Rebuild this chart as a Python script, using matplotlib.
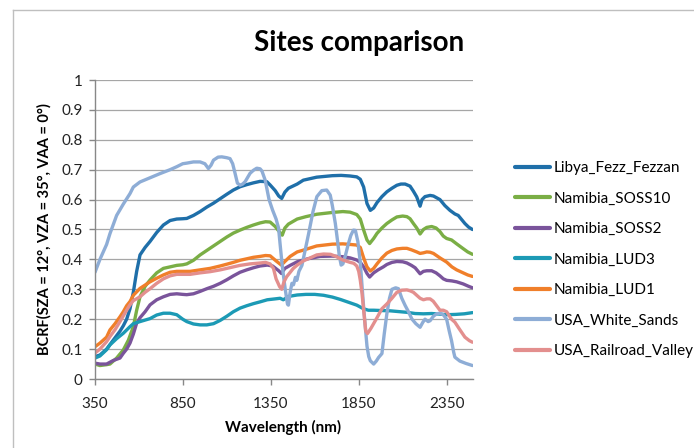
import matplotlib
matplotlib.use("Agg")
import matplotlib.pyplot as plt
from matplotlib.lines import Line2D

plt.rcParams['font.family'] = ['Lato', 'DejaVu Sans']

# ---------------- data ----------------
series_names = ["Libya_Fezz_Fezzan", "Namibia_SOSS10", "Namibia_SOSS2", "Namibia_LUD3",
                "Namibia_LUD1", "USA_White_Sands", "USA_Railroad_Valley"]
series_colors = ["#1F6FA9", "#7AAE45", "#7A549B", "#1C9AB5", "#F07F2A", "#8EADD6", "#E38F8E"]

libya_wl = [350, 378, 416, 454, 492, 511, 530, 549, 568, 587, 606, 635, 663, 701, 739, 777, 815, 849, 872, 910,
            948, 986, 1024, 1062, 1100, 1137, 1175, 1213, 1251, 1289, 1327, 1346, 1375, 1395, 1412, 1430, 1450, 1500,
            1535, 1611, 1700, 1750, 1800, 1839, 1859, 1878, 1897, 1916, 1935, 1954, 1982, 2010, 2039, 2067, 2090,
            2114, 2142, 2161, 2180, 2199, 2210, 2227, 2256, 2275, 2312, 2340, 2369, 2397, 2416, 2440, 2454, 2475, 2497]
libya_val = [0.075, 0.08, 0.1, 0.13, 0.16, 0.178, 0.2, 0.235, 0.29, 0.36, 0.415, 0.44, 0.46, 0.49, 0.515, 0.53,
             0.535, 0.536, 0.537, 0.547, 0.56, 0.575, 0.588, 0.603, 0.618, 0.632, 0.643, 0.65, 0.656, 0.661, 0.66,
             0.649, 0.63, 0.612, 0.604, 0.625, 0.638, 0.652, 0.665, 0.675, 0.68, 0.681, 0.679, 0.676, 0.668, 0.642,
             0.587, 0.564, 0.572, 0.59, 0.61, 0.626, 0.638, 0.648, 0.652, 0.652, 0.645, 0.628, 0.609, 0.578, 0.6,
             0.61, 0.614, 0.612, 0.6, 0.58, 0.564, 0.552, 0.547, 0.53, 0.52, 0.508, 0.5]

soss10_wl = [350, 378, 416, 435, 473, 511, 540, 568, 587, 606, 635, 663, 701, 739, 777, 815, 849, 872, 910, 948,
             986, 1024, 1062, 1100, 1137, 1175, 1213, 1251, 1289, 1320, 1346, 1375, 1395, 1415, 1430, 1450, 1500,
             1550, 1611, 1700, 1760, 1801, 1839, 1859, 1877, 1897, 1912, 1935, 1954, 1982, 2010, 2039, 2067, 2100,
             2124, 2142, 2161, 2180, 2199, 2218, 2237, 2265, 2290, 2312, 2331, 2350, 2378, 2407, 2444, 2470, 2497]
soss10_val = [0.05, 0.045, 0.048, 0.05, 0.07, 0.097, 0.13, 0.175, 0.23, 0.275, 0.31, 0.331, 0.355, 0.37, 0.375,
              0.38, 0.382, 0.385, 0.397, 0.415, 0.43, 0.445, 0.46, 0.475, 0.488, 0.498, 0.507, 0.515, 0.522, 0.526,
              0.525, 0.51, 0.495, 0.481, 0.505, 0.518, 0.535, 0.543, 0.551, 0.557, 0.56, 0.558, 0.55, 0.535, 0.5,
              0.465, 0.453, 0.47, 0.487, 0.505, 0.52, 0.532, 0.542, 0.545, 0.543, 0.536, 0.52, 0.505, 0.485, 0.5,
              0.507, 0.51, 0.505, 0.493, 0.478, 0.47, 0.465, 0.452, 0.436, 0.425, 0.417]

soss2_wl = [350, 378, 416, 454, 492, 511, 530, 549, 568, 587, 606, 635, 663, 701, 739, 777, 815, 849, 872, 910,
            948, 986, 1024, 1062, 1100, 1137, 1175, 1213, 1251, 1289, 1330, 1360, 1395, 1410, 1430, 1460, 1500,
            1560, 1630, 1700, 1760, 1801, 1839, 1859, 1878, 1897, 1912, 1935, 1960, 1990, 2010, 2039, 2067, 2100,
            2124, 2150, 2171, 2199, 2218, 2237, 2265, 2290, 2312, 2331, 2350, 2380, 2407, 2444, 2475, 2497]
soss2_val = [0.053, 0.05, 0.05, 0.062, 0.07, 0.086, 0.1, 0.12, 0.15, 0.187, 0.205, 0.225, 0.248, 0.265, 0.275,
             0.283, 0.285, 0.283, 0.282, 0.285, 0.293, 0.302, 0.31, 0.32, 0.332, 0.345, 0.357, 0.365, 0.372, 0.378,
             0.381, 0.378, 0.362, 0.353, 0.37, 0.38, 0.392, 0.402, 0.41, 0.411, 0.409, 0.405, 0.398, 0.39, 0.375,
             0.353, 0.341, 0.355, 0.365, 0.375, 0.383, 0.39, 0.393, 0.392, 0.388, 0.38, 0.372, 0.352, 0.36, 0.362,
             0.362, 0.355, 0.345, 0.335, 0.33, 0.328, 0.325, 0.318, 0.31, 0.305]

lud3_wl = [350, 378, 416, 435, 473, 511, 549, 568, 606, 663, 701, 739, 777, 815, 849, 872, 910, 948, 986, 1024,
           1062, 1100, 1137, 1175, 1213, 1251, 1289, 1330, 1375, 1403, 1421, 1450, 1500, 1550, 1600, 1650, 1700,
           1746, 1800, 1839, 1877, 1905, 1935, 1980, 2029, 2086, 2124, 2171, 2218, 2265, 2312, 2350, 2400, 2450, 2497]
lud3_val = [0.07, 0.077, 0.098, 0.114, 0.135, 0.153, 0.175, 0.185, 0.192, 0.202, 0.214, 0.22, 0.22, 0.215, 0.2,
            0.192, 0.184, 0.181, 0.181, 0.185, 0.196, 0.21, 0.225, 0.237, 0.245, 0.252, 0.258, 0.265, 0.268, 0.27,
            0.265, 0.276, 0.281, 0.283, 0.283, 0.28, 0.274, 0.266, 0.255, 0.247, 0.235, 0.23, 0.23, 0.229, 0.228,
            0.225, 0.223, 0.219, 0.218, 0.219, 0.217, 0.215, 0.216, 0.218, 0.222]

lud1_wl = [350, 378, 416, 435, 464, 492, 511, 530, 549, 568, 606, 663, 701, 739, 777, 815, 849, 891, 948, 1005,
           1062, 1100, 1137, 1175, 1213, 1251, 1289, 1320, 1346, 1380, 1410, 1430, 1460, 1500, 1535, 1611, 1700,
           1760, 1801, 1839, 1859, 1878, 1897, 1916, 1935, 1954, 1982, 2010, 2039, 2067, 2100, 2124, 2150, 2180,
           2199, 2218, 2237, 2256, 2275, 2312, 2350, 2380, 2407, 2444, 2470, 2497]
lud1_val = [0.108, 0.12, 0.14, 0.164, 0.185, 0.208, 0.225, 0.245, 0.259, 0.28, 0.303, 0.325, 0.337, 0.348, 0.357,
            0.36, 0.36, 0.36, 0.365, 0.37, 0.378, 0.384, 0.39, 0.397, 0.402, 0.407, 0.41, 0.413, 0.412, 0.395,
            0.381, 0.393, 0.41, 0.425, 0.431, 0.445, 0.451, 0.452, 0.45, 0.448, 0.44, 0.405, 0.375, 0.361, 0.37,
            0.385, 0.405, 0.421, 0.43, 0.435, 0.437, 0.437, 0.432, 0.425, 0.42, 0.422, 0.425, 0.424, 0.42, 0.405,
            0.391, 0.375, 0.365, 0.355, 0.348, 0.343]

sands_wl = [350, 378, 416, 435, 473, 511, 549, 568, 606, 663, 720, 777, 815, 849, 872, 910, 948, 975, 995, 1010,
            1024, 1050, 1071, 1100, 1118, 1133, 1147, 1160, 1175, 1190, 1204, 1232, 1251, 1270, 1289, 1300, 1318,
            1340, 1360, 1380, 1394, 1403, 1413, 1421, 1432, 1445, 1450, 1460, 1470, 1479, 1490, 1498, 1510, 1527,
            1545, 1565, 1590, 1612, 1640, 1668, 1688, 1700, 1717, 1730, 1740, 1750, 1760, 1773, 1790, 1805, 1820,
            1831, 1845, 1859, 1869, 1878, 1888, 1897, 1907, 1916, 1935, 1950, 1963, 1982, 1995, 2010, 2025, 2039,
            2060, 2076, 2095, 2114, 2133, 2152, 2175, 2199, 2215, 2227, 2245, 2256, 2275, 2293, 2312, 2331, 2350,
            2365, 2378, 2390, 2397, 2425, 2460, 2497]
sands_val = [0.357, 0.4, 0.45, 0.486, 0.547, 0.585, 0.62, 0.642, 0.659, 0.673, 0.687, 0.7, 0.71, 0.72, 0.722,
             0.726, 0.726, 0.72, 0.704, 0.715, 0.732, 0.742, 0.743, 0.74, 0.737, 0.72, 0.687, 0.655, 0.648, 0.652,
             0.66, 0.688, 0.698, 0.705, 0.703, 0.695, 0.665, 0.6, 0.565, 0.535, 0.505, 0.45, 0.39, 0.35, 0.3, 0.25,
             0.247, 0.29, 0.32, 0.315, 0.34, 0.33, 0.36, 0.38, 0.43, 0.486, 0.56, 0.61, 0.63, 0.632, 0.615, 0.58,
             0.52, 0.46, 0.41, 0.381, 0.385, 0.41, 0.45, 0.48, 0.498, 0.497, 0.46, 0.39, 0.31, 0.24, 0.17, 0.11,
             0.075, 0.061, 0.05, 0.06, 0.072, 0.085, 0.15, 0.218, 0.27, 0.3, 0.305, 0.302, 0.27, 0.246, 0.225,
             0.201, 0.185, 0.173, 0.19, 0.2, 0.192, 0.195, 0.21, 0.218, 0.22, 0.215, 0.2, 0.16, 0.128, 0.09, 0.073,
             0.06, 0.052, 0.045]

rail_wl = [350, 378, 416, 435, 464, 492, 530, 549, 568, 606, 635, 663, 701, 739, 777, 815, 849, 891, 948, 1005,
           1062, 1100, 1137, 1175, 1232, 1289, 1320, 1346, 1365, 1380, 1400, 1412, 1425, 1440, 1478, 1500, 1535,
           1570, 1611, 1650, 1690, 1720, 1760, 1801, 1822, 1839, 1850, 1859, 1869, 1878, 1890, 1900, 1920, 1954,
           1982, 2010, 2039, 2067, 2095, 2124, 2142, 2161, 2180, 2199, 2218, 2237, 2256, 2274, 2293, 2312, 2331,
           2350, 2378, 2397, 2425, 2454, 2480, 2497]
rail_val = [0.087, 0.1, 0.125, 0.142, 0.165, 0.192, 0.23, 0.248, 0.262, 0.275, 0.29, 0.302, 0.32, 0.335, 0.345,
            0.35, 0.35, 0.35, 0.355, 0.359, 0.365, 0.37, 0.375, 0.38, 0.385, 0.388, 0.39, 0.385, 0.37, 0.335, 0.309,
            0.3, 0.325, 0.342, 0.37, 0.381, 0.395, 0.404, 0.415, 0.418, 0.417, 0.41, 0.398, 0.39, 0.387, 0.378,
            0.36, 0.33, 0.285, 0.23, 0.16, 0.152, 0.17, 0.205, 0.235, 0.251, 0.27, 0.29, 0.297, 0.298, 0.295, 0.29,
            0.28, 0.27, 0.265, 0.268, 0.268, 0.26, 0.245, 0.23, 0.23, 0.225, 0.2, 0.19, 0.165, 0.14, 0.128, 0.123]

series_wl = [libya_wl, soss10_wl, soss2_wl, lud3_wl, lud1_wl, sands_wl, rail_wl]
series_val = [libya_val, soss10_val, soss2_val, lud3_val, lud1_val, sands_val, rail_val]

x_ticks = [350, 850, 1350, 1850, 2350]
y_ticks = [0, 0.1, 0.2, 0.3, 0.4, 0.5, 0.6, 0.7, 0.8, 0.9, 1]
y_tick_labels = ["0", "0.1", "0.2", "0.3", "0.4", "0.5", "0.6", "0.7", "0.8", "0.9", "1"]

title = "Sites comparison"
x_label = "Wavelength (nm)"
y_label = "BCRF(SZA = 12°, VZA = 35°, VAA = 0°)"

# ---------------- figure ----------------
W, H = 694, 448
fig = plt.figure(figsize=(W / 100, H / 100), dpi=100)
ax = fig.add_axes([95 / W, 1 - 379 / H, 378 / W, 299 / H])

for name, col, wl, val in zip(series_names, series_colors, series_wl, series_val):
    ax.plot(wl, val, color=col, lw=2.4, label=name, solid_capstyle='round', solid_joinstyle='round')

ax.set_xlim(350, 2500)
ax.set_ylim(0, 1)
ax.set_xticks(x_ticks)
ax.set_yticks(y_ticks)
ax.set_yticklabels(y_tick_labels)
ax.grid(axis='y', color='#A6A6A6', lw=0.9)
ax.set_axisbelow(True)
for s in ['top', 'right']:
    ax.spines[s].set_visible(False)
for s in ['left', 'bottom']:
    ax.spines[s].set_color('#888888')
    ax.spines[s].set_linewidth(1.0)
ax.tick_params(axis='both', direction='out', length=4, width=1, color='#888888',
               labelsize=11, labelcolor='#222222')
ax.tick_params(axis='x', pad=9)
ax.tick_params(axis='y', pad=5)

fig.text(283 / W, 1 - 427 / H, x_label, ha='center', va='center', fontsize=11, fontweight='bold')
fig.text(44 / W, 1 - 229 / H, y_label, ha='center', va='center', rotation=90, fontsize=10.5, fontweight='bold')
fig.text(359 / W, 1 - 43 / H, title, ha='center', va='center', fontsize=20, fontweight='bold')

leg = ax.legend(loc='upper left', bbox_to_anchor=(509 / W, 1 - 155 / H), bbox_transform=fig.transFigure,
                frameon=False, fontsize=11, handlelength=2.3, handletextpad=0.2, labelspacing=1.08,
                borderaxespad=0)
for line in leg.get_lines():
    line.set_linewidth(3)

# outer chart border (only left and top visible)
fig.add_artist(Line2D([12.5 / W, 12.5 / W], [0, 1 - 10 / H], transform=fig.transFigure, color='#BFBFBF', lw=1))
fig.add_artist(Line2D([12.5 / W, 1], [1 - 10 / H, 1 - 10 / H], transform=fig.transFigure, color='#BFBFBF', lw=1))

fig.savefig("out.png", dpi=100)
